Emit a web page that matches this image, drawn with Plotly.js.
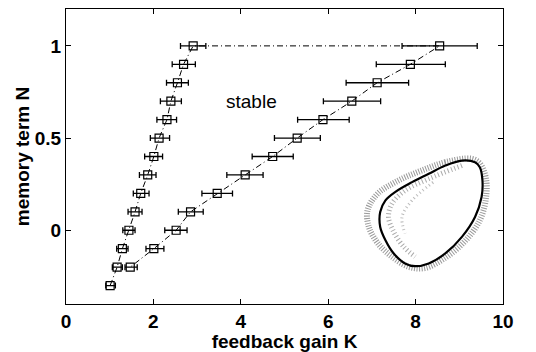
<!DOCTYPE html>
<html>
<head>
<meta charset="utf-8">
<script src="https://cdn.plot.ly/plotly-3.0.1.min.js"></script>
<style>html,body{margin:0;padding:0;background:#fff;}#chart{width:536px;height:352px;}</style>
</head>
<body>
<div id="chart"></div>
<script>
// Left branch (stability boundary, low gain)
var leftN  = [-0.3, -0.2, -0.1, 0, 0.1, 0.2, 0.3, 0.4, 0.5, 0.6, 0.7, 0.8, 0.9, 1];
var leftK  = [1.01, 1.17, 1.29, 1.44, 1.58, 1.71, 1.87, 2.01, 2.13, 2.31, 2.40, 2.55, 2.69, 2.91];
var leftLo = [0.91, 1.06, 1.16, 1.30, 1.42, 1.54, 1.68, 1.80, 1.93, 2.08, 2.16, 2.30, 2.43, 2.62];
var leftHi = [1.13, 1.29, 1.42, 1.58, 1.74, 1.90, 2.06, 2.21, 2.37, 2.53, 2.64, 2.80, 2.96, 3.20];

// Right branch (stability boundary, high gain)
var rightN  = [1, 0.9, 0.8, 0.7, 0.6, 0.5, 0.4, 0.3, 0.2, 0.1, 0, -0.1, -0.2];
var rightK  = [8.55, 7.88, 7.12, 6.54, 5.88, 5.29, 4.73, 4.10, 3.46, 2.85, 2.52, 2.01, 1.47];
var rightLo = [7.69, 7.10, 6.41, 5.89, 5.30, 4.77, 4.26, 3.68, 3.11, 2.57, 2.26, 1.83, 1.35];
var rightHi = [9.41, 8.68, 7.84, 7.20, 6.48, 5.82, 5.20, 4.51, 3.81, 3.14, 2.77, 2.24, 1.63];

// Inset limit cycle (solid curve)
var loopK = [9.36, 9.06, 8.68, 8.30, 7.92, 7.53, 7.31, 7.19, 7.19, 7.31, 7.50, 7.76, 7.99, 8.30, 8.68, 9.06, 9.36, 9.51, 9.53, 9.47, 9.36];
var loopN = [0.369, 0.378, 0.351, 0.306, 0.261, 0.207, 0.162, 0.099, 0.018, -0.054, -0.126, -0.180, -0.195, -0.180, -0.126, -0.036, 0.072, 0.180, 0.270, 0.342, 0.369];
// Inset noisy band (outer dotted)
var bandK = [9.28, 8.68, 8.14, 7.61, 7.13, 6.90, 6.93, 7.14, 7.46, 7.84, 8.21, 8.67, 9.13, 9.47, 9.61, 9.61, 9.47, 9.28];
var bandN = [0.388, 0.369, 0.324, 0.270, 0.198, 0.108, 0.018, -0.072, -0.144, -0.198, -0.205, -0.151, -0.059, 0.054, 0.173, 0.281, 0.362, 0.388];
// Inset noisy band (inner dotted)
var innerK = [9.06, 8.30, 7.76, 7.46, 7.38, 7.50, 7.73, 7.99];
var innerN = [0.351, 0.279, 0.216, 0.144, 0.072, -0.009, -0.090, -0.144];
var inner2K = [8.40, 7.92, 7.69, 7.76];
var inner2N = [0.260, 0.162, 0.072, -0.018];

var xTicks = [0, 2, 4, 6, 8, 10];
var yTicks = [0, 0.5, 1];
var yTickText = ['0', '0.5', '1'];

function diff(a, b) { return a.map(function (v, i) { return v - b[i]; }); }

var lineK = leftK.concat(rightK);
var lineN = leftN.concat(rightN);

var traces = [
  {x: bandK, y: bandN, mode: 'lines', line: {color: '#999', width: 6, dash: '1px,1.5px', shape: 'spline'}, hoverinfo: 'skip'},
  {x: innerK, y: innerN, mode: 'lines', line: {color: '#aaa', width: 5, dash: '1px,2.5px', shape: 'spline'}, hoverinfo: 'skip'},
  {x: inner2K, y: inner2N, mode: 'lines', line: {color: '#bbb', width: 3, dash: '1px,3px', shape: 'spline'}, hoverinfo: 'skip'},
  {x: loopK, y: loopN, mode: 'lines', line: {color: '#000', width: 2.2, shape: 'spline'}, hoverinfo: 'skip'},
  {x: lineK, y: lineN, mode: 'lines', line: {color: '#000', width: 1, dash: '6px,3px,1px,3px'}},
  {x: leftK, y: leftN, mode: 'markers',
   marker: {symbol: 'square-open', size: 8, color: '#000', line: {width: 1.2, color: '#000'}},
   error_x: {type: 'data', symmetric: false, array: diff(leftHi, leftK), arrayminus: diff(leftK, leftLo), color: '#000', thickness: 1.3, width: 3}},
  {x: rightK, y: rightN, mode: 'markers',
   marker: {symbol: 'square-open', size: 8, color: '#000', line: {width: 1.2, color: '#000'}},
   error_x: {type: 'data', symmetric: false, array: diff(rightHi, rightK), arrayminus: diff(rightK, rightLo), color: '#000', thickness: 1.3, width: 3}}
];

var tickFont = {family: 'Liberation Sans, Arial, sans-serif', size: 19, color: '#000', weight: 'bold'};
var titleFont = {family: 'Liberation Sans, Arial, sans-serif', size: 19, color: '#000', weight: 'bold'};

var layout = {
  width: 536, height: 352,
  margin: {l: 66, r: 33, t: 9, b: 48},
  paper_bgcolor: '#fff', plot_bgcolor: '#fff',
  showlegend: false,
  xaxis: {
    range: [0, 10], tickvals: xTicks, ticktext: xTicks.map(String),
    ticks: 'inside', ticklen: 5, tickcolor: '#000', tickwidth: 1,
    showline: true, linecolor: '#000', linewidth: 1, mirror: 'ticks',
    showgrid: false, zeroline: false, tickfont: tickFont,
    title: {text: 'feedback gain K', font: titleFont, standoff: 0}
  },
  yaxis: {
    range: [-0.4, 1.2], tickvals: yTicks, ticktext: yTickText,
    ticks: 'inside', ticklen: 5, tickcolor: '#000', tickwidth: 1,
    showline: true, linecolor: '#000', linewidth: 1, mirror: 'ticks',
    showgrid: false, zeroline: false, tickfont: tickFont,
    title: {text: 'memory term N', font: titleFont, standoff: 0}
  },
  annotations: [
    {x: 4.24, y: 0.70, xref: 'x', yref: 'y', text: 'stable', showarrow: false,
     font: {family: 'Liberation Sans, Arial, sans-serif', size: 19, color: '#000'}}
  ]
};

Plotly.newPlot('chart', traces, layout, {staticPlot: true, displayModeBar: false});
</script>
</body>
</html>
